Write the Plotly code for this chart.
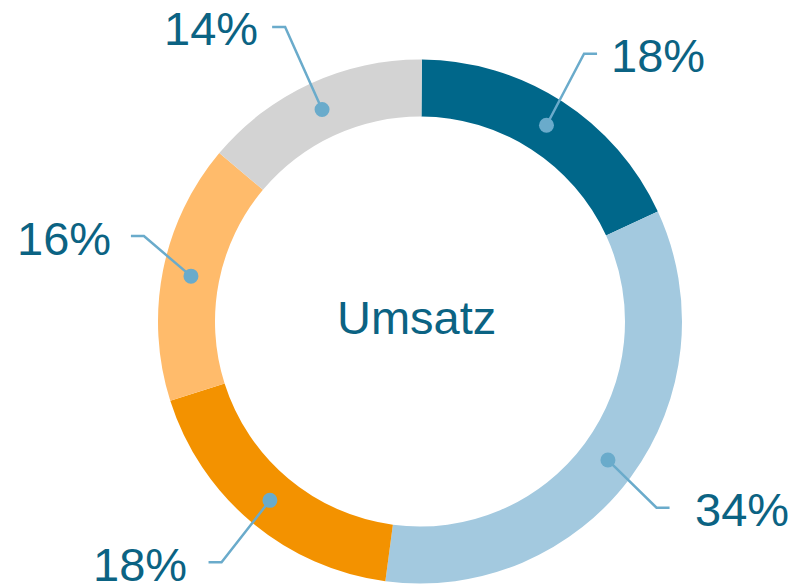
import math
import plotly.graph_objects as go

# ---- data ----
segments = ["A", "B", "C", "D", "E"]
shares = [18, 34, 18, 16, 14]
labels = ["18%", "34%", "18%", "16%", "14%"]
center_text = "Umsatz"

# ---- styles / layout ----
colors = ["#00678A", "#A3C9DF", "#F39200", "#FFBB6B", "#D3D3D3"]
text_color = "#0B6383"
leader_color = "#6AABCB"
W, H = 800, 586
cx, cy = 420, 321.5          # pie centre in px
r_out, r_in = 262, 205
r_mid = (r_out + r_in) / 2
rotation = 0.4
# per-label placement tweaks (degrees, px)
elbow_angle_nudge = [-1.3, 1.8, -0.5, 6.0, 0.2]
elbow_radius = [314, 301, 312, 289, 324]
label_gap = [12, 23, 20, 18, 12]
hseg = 13
font_size = 47
dot_r = 7.5

fig = go.Figure()
fig.add_trace(go.Pie(
    labels=segments, values=shares, sort=False, direction="clockwise",
    rotation=rotation, hole=r_in / r_out, textinfo="none", hoverinfo="skip",
    marker=dict(colors=colors, line=dict(width=0)),
    domain=dict(x=[(cx - r_out) / W, (cx + r_out) / W],
                y=[(H - cy - r_out) / H, (H - cy + r_out) / H]),
    showlegend=False,
))

total = sum(shares)
cum = 0
annotations = []
shapes = []
for i, v in enumerate(shares):
    mid = (cum + v / 2) / total * 360 + rotation
    cum += v
    a = math.radians(mid)
    dx, dy = cx + r_mid * math.sin(a), cy - r_mid * math.cos(a)
    ae = math.radians(mid + elbow_angle_nudge[i])
    ex, ey = cx + elbow_radius[i] * math.sin(ae), cy - elbow_radius[i] * math.cos(ae)
    side = 1 if ex > cx else -1
    hx = ex + side * hseg
    shapes.append(dict(type="path", xref="x", yref="y", layer="above",
                       path=f"M{dx},{dy} L{ex},{ey} L{hx},{ey}",
                       line=dict(color=leader_color, width=2.5)))
    shapes.append(dict(type="circle", xref="x", yref="y", layer="above",
                       x0=dx - dot_r, x1=dx + dot_r, y0=dy - dot_r, y1=dy + dot_r,
                       fillcolor=leader_color, line=dict(width=0)))
    annotations.append(dict(
        x=hx + side * label_gap[i], y=ey, xref="x", yref="y", text=labels[i],
        showarrow=False, xanchor="left" if side > 0 else "right", yanchor="middle",
        font=dict(family="Liberation Sans, Arial", size=font_size, color=text_color),
        yshift=-2,
    ))

annotations.append(dict(
    x=cx - 4, y=cy - 4, xref="x", yref="y", text=center_text, showarrow=False,
    xanchor="center", yanchor="middle",
    font=dict(family="Liberation Sans, Arial", size=47, color=text_color),
))

fig.update_layout(
    width=W, height=H, margin=dict(l=0, r=0, t=0, b=0),
    paper_bgcolor="white", plot_bgcolor="rgba(0,0,0,0)",
    xaxis=dict(range=[0, W], visible=False, fixedrange=True),
    yaxis=dict(range=[H, 0], visible=False, fixedrange=True),
    annotations=annotations, shapes=shapes,
)
fig.write_html("out.html", config={"displayModeBar": False},
               post_script="document.body.style.margin='0';")
